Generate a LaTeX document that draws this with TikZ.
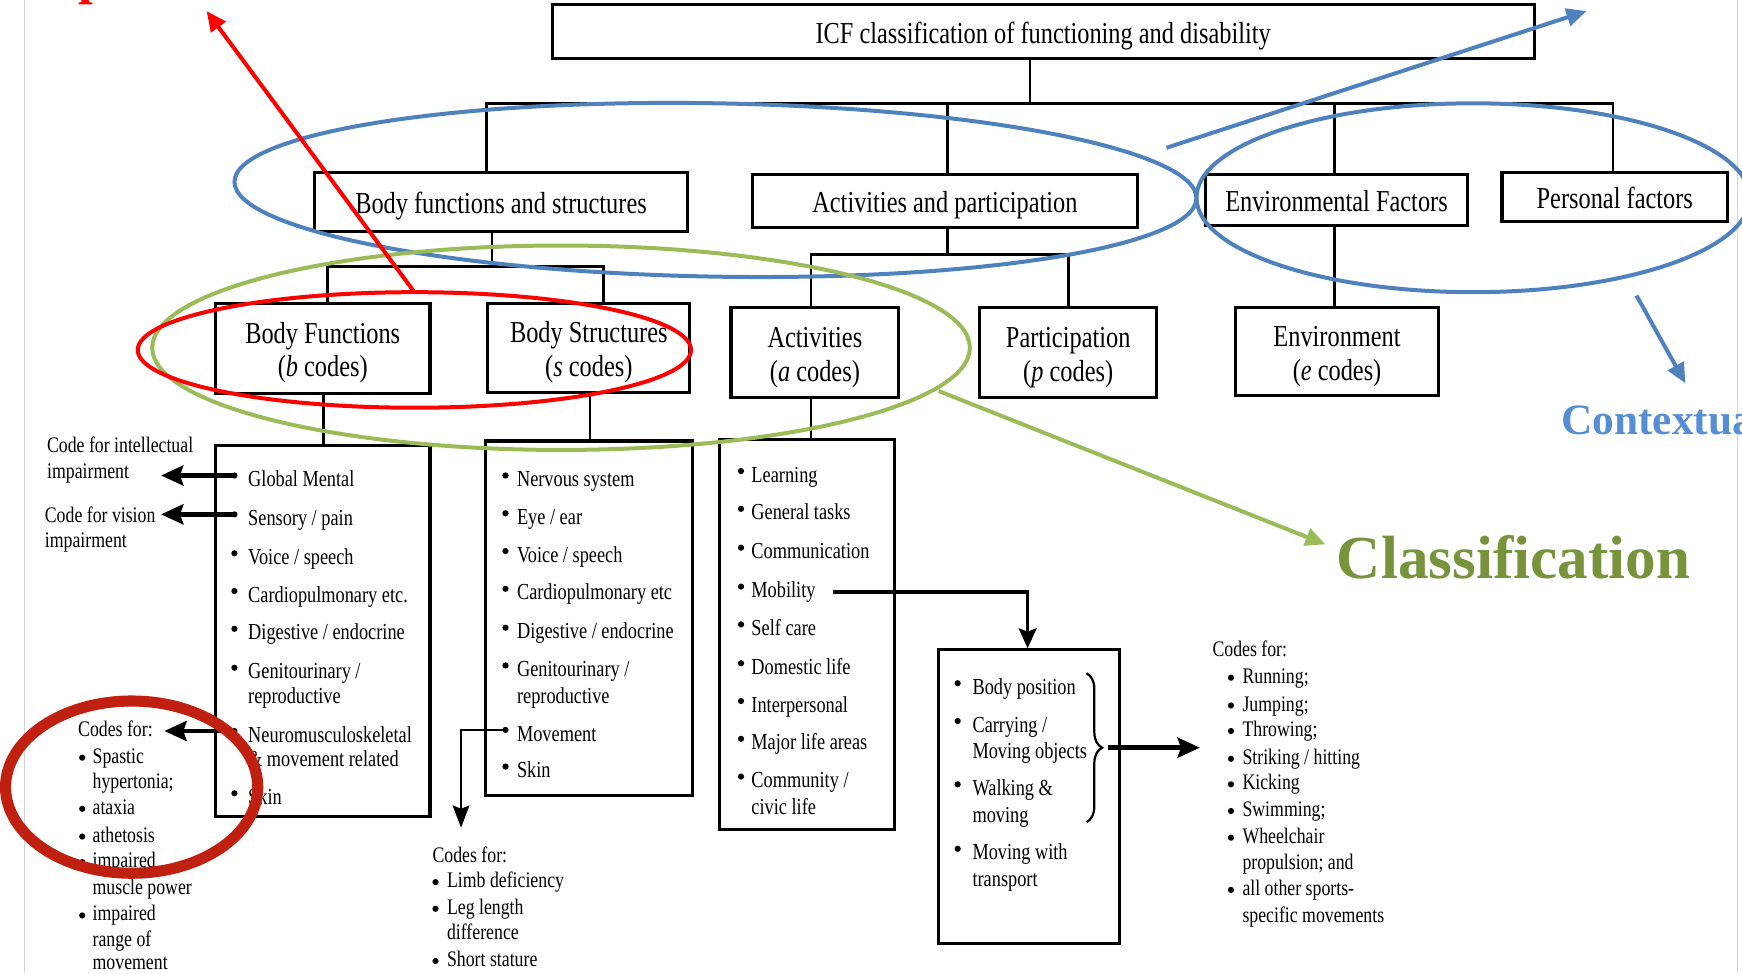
\documentclass[tikz,border=0pt]{standalone}
\usepackage{fontspec}
\setmainfont[FakeStretch=0.8]{Liberation Serif}
\newfontfamily\tagfont{Liberation Serif}
\usetikzlibrary{arrows.meta,decorations.pathreplacing}

\definecolor{ringblue}{HTML}{4F81BD}
\definecolor{tagblue}{HTML}{558ED5}
\definecolor{ringgreen}{HTML}{9BBB59}
\definecolor{taggreen}{HTML}{77933C}
\definecolor{ringred}{HTML}{FF0000}
\definecolor{ringbrick}{HTML}{C0200F}
\definecolor{edgegray}{HTML}{D2D2D2}

% bulleted column: prefix, dot x, text x, text style, dot style, dot lift, y/text/has-dot items
\newcommand\itemcolumn[7]{%
  \foreach \yy/\tx/\fl [count=\i] in {#7}{%
    \node[#4] (#1-\i) at (#3,\yy) {\tx};
    \ifnum\fl=1 \node[#5] (#1-dot\i) at (#2,\yy-#6) {};\fi
  }}

% centred box label, drawn a little lower than the geometric middle
\newcommand\boxlabel[1]{\raisebox{-2.3pt}[\height][\depth]{\renewcommand\arraystretch{0.97}%
  \begin{tabular}{@{}c@{}}#1\end{tabular}}}

\begin{document}
\begin{tikzpicture}[x=0.5pt,y=-0.5pt,
  box/.style={draw, line width=1.4pt, inner sep=0pt,
              font=\fontsize{13.7}{15.5}\selectfont},
  conn/.style={line width=1.2pt},
  boxtext/.style={anchor=base west, inner sep=0pt, font=\fontsize{10.3}{12}\selectfont},
  sidetext/.style={anchor=base west, inner sep=0pt, font=\fontsize{10}{12}\selectfont},
  dot/.style={circle, fill, inner sep=0pt, minimum size=2.8pt},
  fatarrow/.style={line width=2pt, -{Stealth[length=10pt,width=9pt,inset=1.5pt]}},
  midarrow/.style={line width=1.5pt, -{Stealth[length=9pt,width=8pt,inset=1.5pt]}},
  thinarrow/.style={line width=1pt, -{Stealth[length=10pt,width=7.5pt,inset=1.5pt]}},
  ringline/.style={line width=1.8pt},
  pointer/.style={line width=1.8pt, -{Triangle[length=9pt,width=8pt]}},
  tag/.style={anchor=base west, inner sep=0pt}
]
\useasboundingbox (0,0) rectangle (1568,876);
\clip (0,0) rectangle (1568,876);

% page edges
\draw[edgegray, line width=0.6pt] (22,0) -- (22,876);
\draw[edgegray, line width=0.6pt] (1564,0) -- (1564,876);

% ---------- hierarchy boxes ----------
\node[box, minimum width=442pt, minimum height=24.5pt] (icf) at (939,28.5)
  {\boxlabel{ICF classification of functioning and disability}};

\node[box, minimum width=168pt, minimum height=26.5pt] (bfs) at (451,181.5) {\boxlabel{Body functions and structures}};
\node[box, minimum width=173.5pt, minimum height=24pt] (ap) at (850.5,181) {\boxlabel{Activities and participation}};
\node[box, minimum width=118pt, minimum height=23pt] (ef) at (1203,180) {\boxlabel{Environmental Factors}};
\node[box, minimum width=101.5pt, minimum height=22pt] (pf) at (1453.5,177) {\boxlabel{Personal factors}};

\node[box, minimum width=96.5pt, minimum height=40.5pt] (bf) at (290.5,313.5) {\boxlabel{Body Functions\\(\textit{b} codes)}};
\node[box, minimum width=91pt, minimum height=40pt] (bs) at (530,313) {\boxlabel{Body Structures\\(\textit{s} codes)}};
\node[box, minimum width=75.5pt, minimum height=40.5pt] (act) at (733.5,317.5) {\boxlabel{Activities\\(\textit{a} codes)}};
\node[box, minimum width=79.5pt, minimum height=40.5pt] (par) at (961.5,317.5) {\boxlabel{Participation\\(\textit{p} codes)}};
\node[box, minimum width=91.5pt, minimum height=39.5pt] (env) at (1203.5,316.5) {\boxlabel{Environment\\(\textit{e} codes)}};

\node[box, minimum width=96.5pt, minimum height=167pt] (L1) at (290.5,568) {};
\node[box, minimum width=93pt, minimum height=159.5pt] (L2) at (530,556.5) {};
\node[box, minimum width=78.5pt, minimum height=175.5pt] (L3) at (726.5,571.5) {};
\node[box, minimum width=81.5pt, minimum height=132pt] (L4) at (926.5,717) {};

% ---------- tree connectors ----------
\coordinate (bus-top) at (927,93);
\coordinate (busL) at (438,93);
\coordinate (busR) at (1452,93);
\coordinate (busAP) at (853,93);
\coordinate (busEF) at (1201,93);
\draw[conn] (icf.south -| bus-top) -- (bus-top);
\draw[conn] (bfs.north -| busL) -- (busL) -- (busR) -- (pf.north -| busR);
\draw[conn] (busAP) -- (ap.north -| busAP);
\draw[conn] (busEF) -- (ef.north -| busEF);

\coordinate (bfs-j) at (443,240);
\coordinate (bfsL) at (295,240);
\coordinate (bfsR) at (543,240);
\draw[conn] (bfs.south -| bfs-j) -- (bfs-j);
\draw[conn] (bf.north -| bfsL) -- (bfsL) -- (bfsR) -- (bs.north -| bfsR);

\coordinate (ap-j) at (853,229);
\coordinate (apL) at (730,229);
\coordinate (apR) at (962,229);
\draw[conn] (ap.south -| ap-j) -- (ap-j);
\draw[conn] (act.north -| apL) -- (apL) -- (apR) -- (par.north -| apR);

\coordinate (ef-j) at (1201,240);
\draw[conn] (ef.south -| ef-j) -- (env.north -| ef-j);

\coordinate (bf-j) at (291,380);
\coordinate (bs-j) at (531,380);
\coordinate (act-j) at (730,380);
\draw[conn] (bf.south -| bf-j) -- (L1.north -| bf-j);
\draw[conn] (bs.south -| bs-j) -- (L2.north -| bs-j);
\draw[conn] (act.south -| act-j) -- (L3.north -| act-j);

% ---------- lists inside boxes ----------
\itemcolumn{fn}{211}{223}{boxtext}{dot}{10}{438/Global Mental/1, 473/{Sensory / pain}/1,
  508/{Voice / speech}/1, 542/Cardiopulmonary etc./1, 576/{Digestive / endocrine}/1,
  611/{Genitourinary /}/1, 633/reproductive/0, 668/Neuromusculoskeletal/1,
  690/{\& movement related}/0, 724/Skin/1}

\itemcolumn{st}{455}{465}{boxtext}{dot}{10}{438/Nervous system/1, 472/{Eye / ear}/1,
  506/{Voice / speech}/1, 540/Cardiopulmonary etc/1, 575/{Digestive / endocrine}/1,
  609/{Genitourinary /}/1, 633/reproductive/0, 667/Movement/1, 700/Skin/1}

\itemcolumn{ac}{667}{676}{boxtext}{dot}{10}{434/Learning/1, 468/General tasks/1,
  503/Communication/1, 538/Mobility/1, 572/Self care/1, 607/Domestic life/1,
  641/Interpersonal/1, 675/Major life areas/1, 709/{Community /}/1, 733/civic life/0}

\itemcolumn{mo}{862}{875}{boxtext}{dot}{10}{625/Body position/1, 659/{Carrying /}/1,
  683/Moving objects/0, 716/{Walking \&}/1, 740/moving/0, 774/Moving with/1, 798/transport/0}

% ---------- side notes ----------
\node[sidetext] (iq1) at (42,407) {Code for intellectual};
\node[sidetext] (iq2) at (42,431) {impairment};
\node[sidetext] (vi1) at (40,470) {Code for vision};
\node[sidetext] (vi2) at (40,493) {impairment};

\node[sidetext] (nm-head) at (70,663) {Codes for:};
\itemcolumn{nm}{74}{83}{sidetext}{dot}{5}{687/Spastic/1, 710/hypertonia;/0, 733/ataxia/1,
  758/athetosis/1, 781/impaired/1, 805/muscle power/0, 829/impaired/1, 852/range of/0,
  873/movement/0}

\node[sidetext] (mv-head) at (389,776) {Codes for:};
\itemcolumn{mv}{392}{402}{sidetext}{dot}{5}{799/Limb deficiency/1, 823/Leg length/1,
  846/difference/0, 870/Short stature/1}

\node[sidetext] (sp-head) at (1091,591) {Codes for:};
\itemcolumn{sp}{1108}{1118}{sidetext}{dot}{5}{615/Running;/1, 640/Jumping;/1, 663/Throwing;/1,
  688/{Striking / hitting}/1, 711/Kicking/1, 735/Swimming;/1, 759/Wheelchair/1,
  783/propulsion; and/0, 806/all other sports-/1, 830/specific movements/0}

% ---------- black arrows ----------
\coordinate (iq-tip) at (145,428);
\coordinate (vi-tip) at (145,463);
\coordinate (nm-tip) at (148,658);
\draw[fatarrow] (fn-dot1.center) -- (iq-tip);
\draw[fatarrow] (fn-dot2.center) -- (vi-tip);
\draw[fatarrow] (fn-dot8.center) -- (nm-tip);

\coordinate (mv-tip) at (415,745);
\draw[thinarrow] (st-dot8.center) -| (mv-tip);

\coordinate (mob-start) at (750,533);
\coordinate (mob-x) at (925,533);
\draw[midarrow] (mob-start) -- (mob-x) -- (mob-x |- L4.north);

\draw[decorate, decoration={brace, amplitude=7pt}, line width=1pt] (978,606) -- (978,740);
\coordinate (brace-tip) at (997,673);
\coordinate (sp-in) at (1080,673);
\draw[fatarrow] (brace-tip) -- (sp-in);

% ---------- coloured highlights ----------
\draw[ringblue, ringline] (644,171) ellipse [x radius=433, y radius=78, rotate=-1];
\draw[ringblue, ringline] (1326,178) ellipse [x radius=249, y radius=85];
\draw[ringgreen, ringline] (505,313) ellipse [x radius=368, y radius=92];
\draw[ringred, ringline] (373,315) ellipse [x radius=249, y radius=52];
\draw[ringbrick, line width=5pt] (118.5,708.5) ellipse [x radius=113.5, y radius=77.5];

\coordinate (red-from) at (373,263);
\coordinate (red-tip) at (186,10);
\draw[ringred, pointer] (red-from) -- (red-tip);

\coordinate (blue-from) at (1050,133);
\coordinate (blue-tip) at (1428,10);
\draw[ringblue, pointer] (blue-from) -- (blue-tip);

\coordinate (ctx-from) at (1473,266);
\coordinate (ctx-tip) at (1517,345);
\draw[ringblue, pointer] (ctx-from) -- (ctx-tip);

\coordinate (green-from) at (845,352);
\coordinate (green-tip) at (1193,490);
\draw[ringgreen, pointer] (green-from) -- (green-tip);

\node[tag, text=taggreen, font=\tagfont\bfseries\fontsize{27.5}{31}\selectfont] (cls) at (1203,521) {Classification};
\node[tag, text=tagblue, font=\tagfont\bfseries\fontsize{19.5}{23}\selectfont] (ctx) at (1405,391) {Contextual};
\node[anchor=base, inner sep=0pt, text=ringred, font=\tagfont\bfseries\fontsize{24}{28}\selectfont] (imp) at (84,-6) {p};
\end{tikzpicture}
\end{document}
